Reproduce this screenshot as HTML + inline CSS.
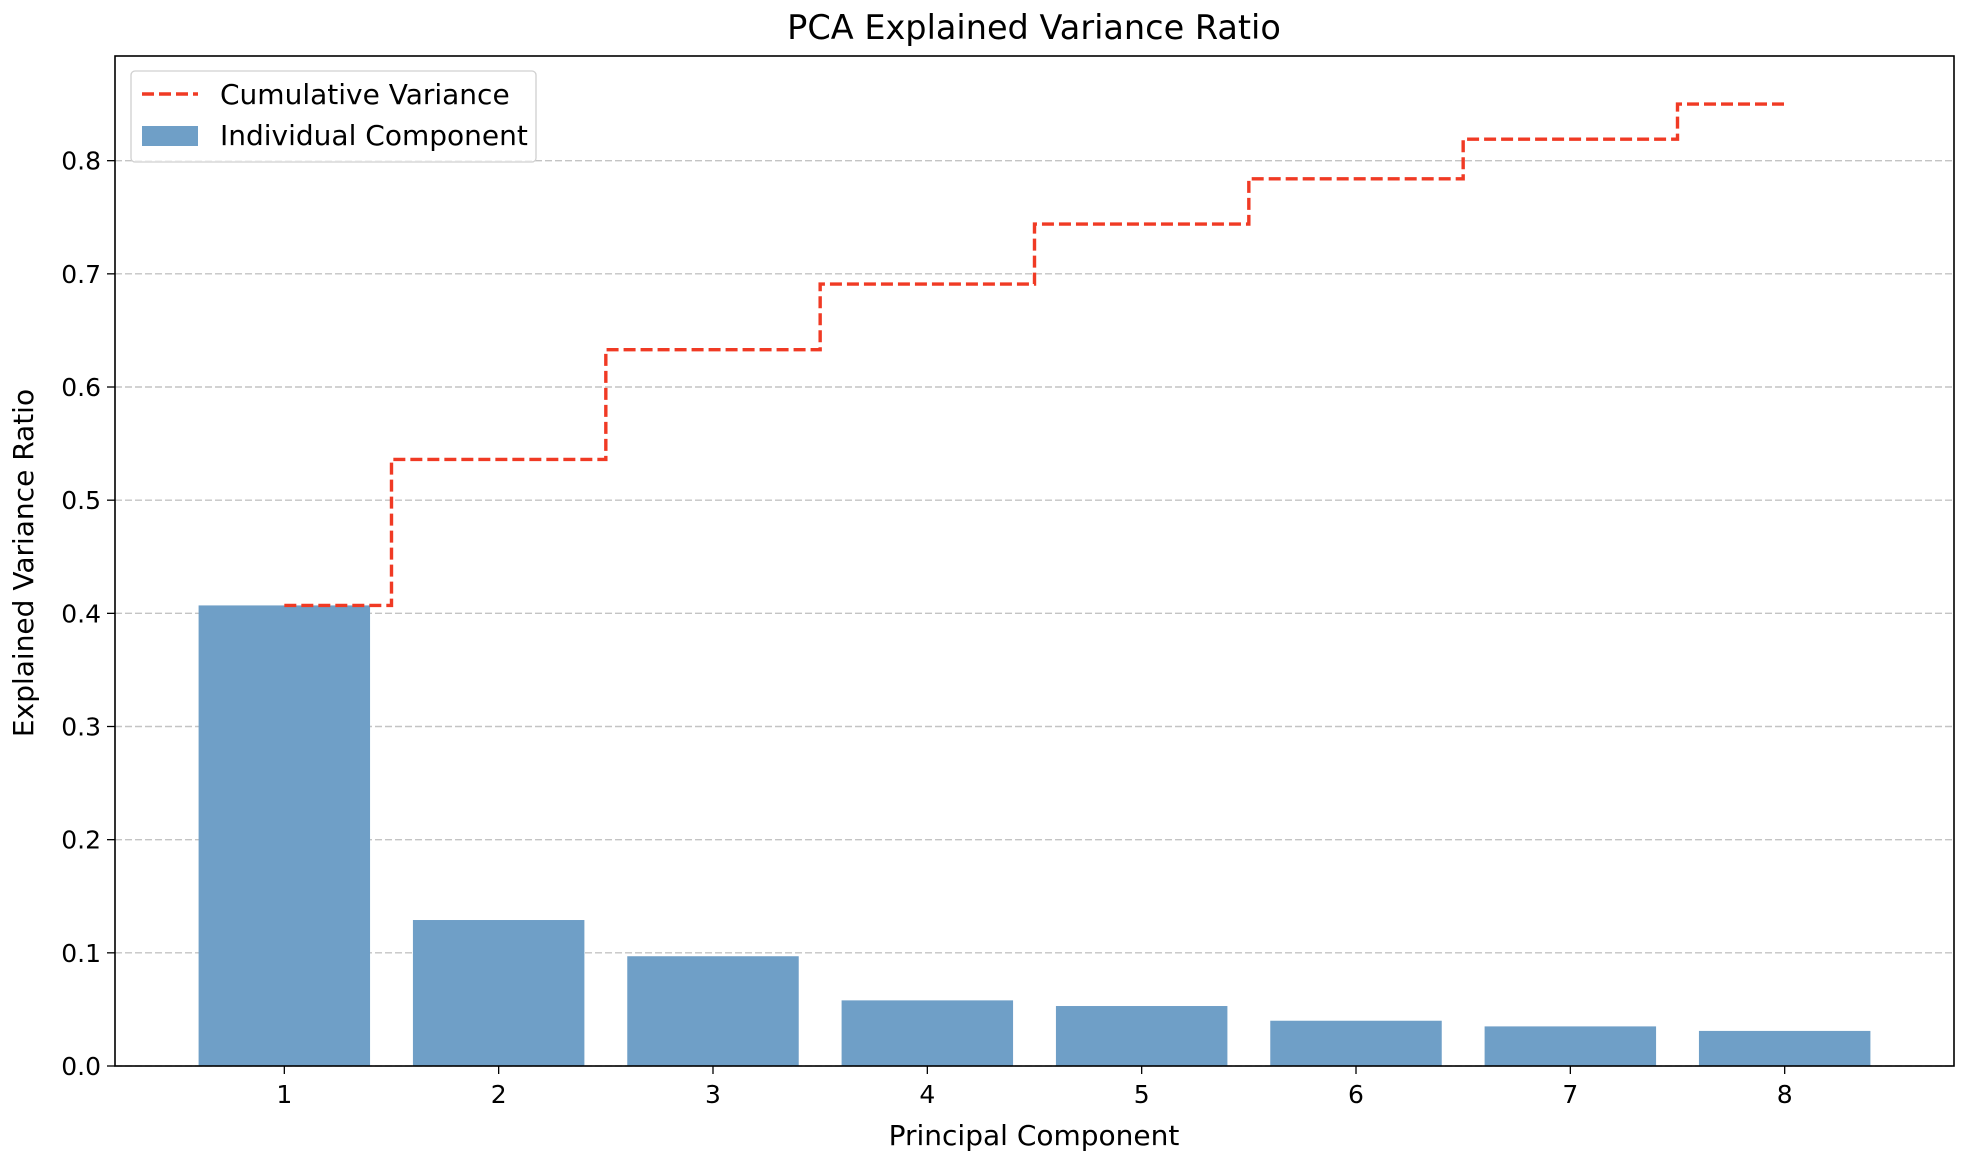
<!DOCTYPE html>
<html><head><meta charset="utf-8"><style>
body{margin:0;background:#fff}
svg{display:block;font-family:"DejaVu Sans","Liberation Sans",sans-serif}
</style></head><body>
<svg id="c" width="1964" height="1164"></svg>
<script>
const categories=[1,2,3,4,5,6,7,8];
const individualValues=[0.407,0.129,0.097,0.058,0.053,0.040,0.035,0.031];
const yTicks=[0.0,0.1,0.2,0.3,0.4,0.5,0.6,0.7,0.8];
const cumulativeValues=[];{let s=0;for(const v of individualValues){s+=v;cumulativeValues.push(s);}}

const L=115,R=1954,T=56,B=1066;
const xmin=0.21,xmax=8.79,ymax=Math.max(...cumulativeValues)*1.05;
const X=v=>L+(v-xmin)/(xmax-xmin)*(R-L);
const Y=v=>B-v/ymax*(B-T);
const svg=document.getElementById('c');const NS='http://www.w3.org/2000/svg';
function mk(tag,attrs,parent){const e=document.createElementNS(NS,tag);for(const k in attrs)e.setAttribute(k,attrs[k]);(parent||svg).appendChild(e);return e;}

yTicks.forEach(t=>{
  const g=mk('line',{x1:L,x2:R,y1:Y(t),y2:Y(t),stroke:'#c4c4c4','stroke-width':1.4,'stroke-dasharray':'7,3'});
  
  
  const tk=mk('line',{x1:L-8,x2:L,y1:Y(t),y2:Y(t),stroke:'#000','stroke-width':1.3});
  
  
  const tx=mk('text',{x:L-14,y:Y(t)+9,'text-anchor':'end','font-size':25});
  tx.textContent=t.toFixed(1);
  
  
});
const bw=0.8*(X(2)-X(1));
categories.forEach((c,i)=>{
  const b=mk('rect',{x:X(c)-bw/2,y:Y(individualValues[i]),width:bw,height:Y(0)-Y(individualValues[i]),fill:'#6f9fc7'});
  
  
  const tk=mk('line',{x1:X(c),x2:X(c),y1:B,y2:B+8,stroke:'#000','stroke-width':1.3});
  
  
  const tx=mk('text',{x:X(c),y:B+37,'text-anchor':'middle','font-size':25});
  tx.textContent=c;
  
  
});
let d='M'+X(categories[0])+','+Y(cumulativeValues[0]);
for(let i=1;i<categories.length;i++){const m=(categories[i-1]+categories[i])/2;d+=' H'+X(m)+' V'+Y(cumulativeValues[i]);}
d+=' H'+X(categories[categories.length-1]);
const ln=mk('path',{d:d,fill:'none',stroke:'#f03a24','stroke-width':3.4,'stroke-dasharray':'12,5'});


const ax=mk('rect',{x:L,y:T,width:R-L,height:B-T,fill:'none',stroke:'#000','stroke-width':1.6});


</script>
<svg width="1964" height="1164" style="position:absolute;left:0;top:0;font-family:'DejaVu Sans','Liberation Sans',sans-serif">
<text x="1034" y="39" text-anchor="middle" font-size="33.5">PCA Explained Variance Ratio</text>
<text x="1034" y="1145" text-anchor="middle" font-size="28">Principal Component</text>
<text transform="translate(33,563) rotate(-90)" text-anchor="middle" font-size="28">Explained Variance Ratio</text>
<g>
<rect x="131" y="71" width="405" height="91" rx="4" fill="#fff" fill-opacity="0.8" stroke="#d0d0d0" stroke-width="1.3"/>
<line x1="142" y1="94" x2="198" y2="94" stroke="#f03a24" stroke-width="3.4" stroke-dasharray="12,5"/>
<text x="220" y="104" font-size="28">Cumulative Variance</text>
<rect x="142" y="126" width="56" height="20" fill="#6f9fc7"/>
<text x="220" y="145" font-size="28">Individual Component</text>
</g>
</svg>
</body></html>
